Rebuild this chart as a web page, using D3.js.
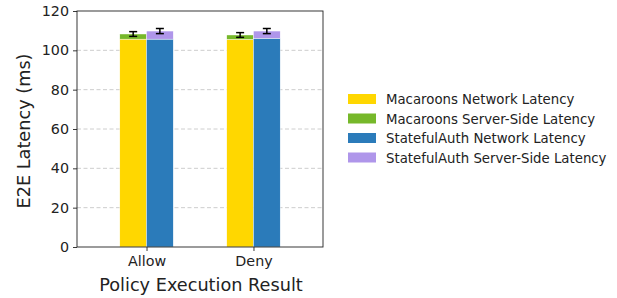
<!DOCTYPE html>
<html>
<head>
<meta charset="utf-8">
<script src="https://cdn.jsdelivr.net/npm/d3@7"></script>
<style>
  body { margin: 0; background: #fff }
  text { font-family: "DejaVu Sans", sans-serif; fill: #222 }
</style>
</head>
<body>
<div id="chart"></div>
<script>
var categories = ["Allow", "Deny"]
var macNetwork = [105.7, 105.6]
var macServer = [2.6, 2.2]
var macErr = [1.2, 1.2]
var saNetwork = [105.7, 106.1]
var saServer = [4.1, 3.7]
var saErr = [1.3, 1.3]
var yTicks = [0, 20, 40, 60, 80, 100, 120]
var legendLabels = ["Macaroons Network Latency", "Macaroons Server-Side Latency",
                    "StatefulAuth Network Latency", "StatefulAuth Server-Side Latency"]
var colors = ["#ffd700", "#76b82a", "#2b7bba", "#af96ea"]

var W = 617, H = 298
var pLeft = 77, pRight = 323, pTop = 11, pBottom = 247

var svg = d3.select("#chart").append("svg").attr("width", W).attr("height", H)

var x = d3.scalePoint().domain(categories).range([pLeft, pRight]).padding(0.65)
var y = d3.scaleLinear().domain([0, 120]).range([pBottom, pTop])
var barW = 26.7

// grid
svg.append("g").selectAll("line").data(yTicks.filter(function (d) { return d > 0 && d < 120 }))
  .enter().append("line")
  .attr("x1", pLeft).attr("x2", pRight)
  .attr("y1", function (d) { return y(d) }).attr("y2", function (d) { return y(d) })
  .attr("stroke", "#c8c8c8").attr("stroke-width", 0.9).attr("stroke-dasharray", "4,2.5")

var g = svg.append("g")

categories.forEach(function (c, i) {
  var cx = x(c)
  var stacks = [
    { x0: cx - barW, base: macNetwork[i], top: macServer[i], err: macErr[i], c0: colors[0], c1: colors[1] },
    { x0: cx, base: saNetwork[i], top: saServer[i], err: saErr[i], c0: colors[2], c1: colors[3] }
  ]
  stacks.forEach(function (s) {
    g.append("rect").attr("x", s.x0).attr("width", barW)
      .attr("y", y(s.base)).attr("height", y(0) - y(s.base))
      .attr("fill", s.c0).attr("stroke", "#fff").attr("stroke-width", 0.4)
    g.append("rect").attr("x", s.x0).attr("width", barW)
      .attr("y", y(s.base + s.top)).attr("height", y(s.base) - y(s.base + s.top))
      .attr("fill", s.c1).attr("stroke", "#fff").attr("stroke-width", 0.4)
    var total = s.base + s.top
    var ex = s.x0 + barW / 2
    g.append("line").attr("x1", ex).attr("x2", ex)
      .attr("y1", y(total - s.err)).attr("y2", y(total + s.err))
      .attr("stroke", "#000").attr("stroke-width", 1.5)
    ;[total - s.err, total + s.err].forEach(function (v) {
      g.append("line").attr("x1", ex - 4).attr("x2", ex + 4)
        .attr("y1", y(v)).attr("y2", y(v))
        .attr("stroke", "#000").attr("stroke-width", 1.5)
    })
  })
})

// axes
var yAxis = svg.append("g").attr("transform", "translate(" + pLeft + ",0)")
  .call(d3.axisLeft(y).tickValues(yTicks).tickSize(4).tickPadding(4))
var xAxis = svg.append("g").attr("transform", "translate(0," + pBottom + ")")
  .call(d3.axisBottom(x).tickSize(4).tickPadding(5))
;[yAxis, xAxis].forEach(function (a) {
  a.select(".domain").remove()
  a.selectAll("line").attr("stroke", "#222").attr("stroke-width", 0.9)
  a.selectAll("text").attr("font-size", "14.3px").attr("font-family", "DejaVu Sans").attr("fill", "#222")
})

svg.append("rect").attr("x", pLeft).attr("y", pTop).attr("width", pRight - pLeft).attr("height", pBottom - pTop)
  .attr("fill", "none").attr("stroke", "#222").attr("stroke-width", 0.9)

svg.append("text").attr("x", (pLeft + pRight) / 2 + 1).attr("y", 291)
  .attr("text-anchor", "middle").attr("font-size", "17.7px").text("Policy Execution Result")
svg.append("text").attr("transform", "translate(30,131) rotate(-90)")
  .attr("text-anchor", "middle").attr("font-size", "17.7px").text("E2E Latency (ms)")

// legend
var leg = svg.append("g").attr("transform", "translate(348,94)")
legendLabels.forEach(function (l, i) {
  var row = leg.append("g").attr("transform", "translate(0," + (i * 19.5) + ")")
  row.append("rect").attr("width", 28).attr("height", 10).attr("fill", colors[i])
  row.append("text").attr("x", 38).attr("y", 10).attr("font-size", "13.3px").text(l)
})
</script>
</body>
</html>
